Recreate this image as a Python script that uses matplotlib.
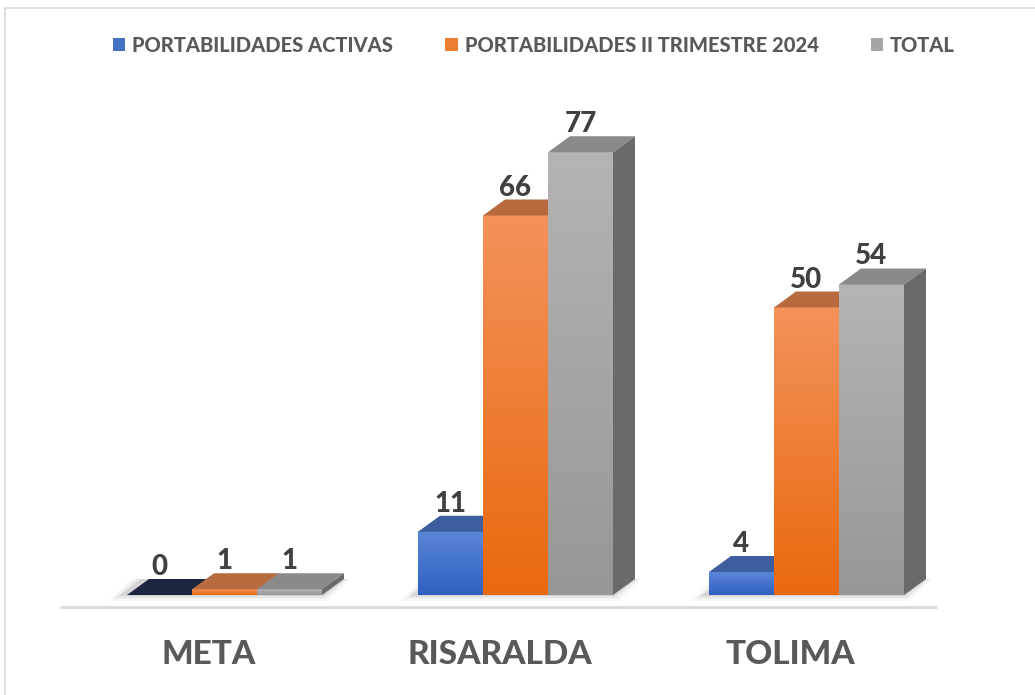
import matplotlib
matplotlib.use("Agg")
import matplotlib.pyplot as plt
import numpy as np
from matplotlib.patches import Polygon, Patch
from matplotlib.colors import LinearSegmentedColormap
from matplotlib.lines import Line2D

# ---------------- data ----------------
categories = ["META", "RISARALDA", "TOLIMA"]
series_names = ["PORTABILIDADES ACTIVAS", "PORTABILIDADES II TRIMESTRE 2024", "TOTAL"]
activas = [0, 11, 4]
trimestre = [1, 66, 50]
total = [1, 77, 54]
series_values = [activas, trimestre, total]

# ---------------- styles ----------------
plt.rcParams['font.family'] = ['Lato', 'DejaVu Sans']
front_top = ["#5b87d8", "#f4925a", "#b4b4b4"]
front_bot = ["#2f5fc0", "#e8690f", "#979797"]
top_col = ["#3e5d9e", "#b86a3f", "#8a8a8a"]
side_col = ["#2d4a85", "#a0522d", "#6a6a6a"]
zero_top = "#1c2640"
legend_col = ["#4472c4", "#ed7d31", "#a5a5a5"]

W, H = 1035, 695
PX_CAT = 291.0      # pixels per category
PX_UNIT = 5.75      # pixels per value unit
X0_PX = 224.5       # pixel of first category centre
Y0_PX = 595.0       # pixel (from top) of value zero
BAR_PX = 65.0
DX_PX, DY_PX = 22.0, 16.0

fig = plt.figure(figsize=(W / 100, H / 100), dpi=100)
ax = fig.add_axes([0, 0, 1, 1])
ax.axis('off')

bw = BAR_PX / PX_CAT
dx = DX_PX / PX_CAT
dy = DY_PX / PX_UNIT
px_x = 1.0 / PX_CAT
px_y = 1.0 / PX_UNIT

grad = np.linspace(1, 0, 128).reshape(-1, 1)
n = len(series_values)

for ci, cat in enumerate(categories):
    gx0 = ci - 1.5 * bw
    gx1 = ci + 1.5 * bw
    for k, a in [(12, 0.03), (8, 0.04), (5, 0.06), (2, 0.08)]:
        ex = k * px_x
        ey = k * 0.5 * px_y
        shadow = Polygon([(gx0 - ex - 6 * px_x, -ey), (gx1 + ex * 0.5, -ey),
                          (gx1 + dx + ex * 0.5, dy), (gx0 + dx - ex - 6 * px_x, dy)],
                         closed=True, facecolor="#303030", edgecolor='none',
                         alpha=a, zorder=1)
        ax.add_patch(shadow)
    for si in range(n):
        v = series_values[si][ci]
        x0 = ci + (si - 1.5) * bw
        x1 = x0 + bw
        z = 2 + si * 0.1
        cmap = LinearSegmentedColormap.from_list("g%d" % si, [front_bot[si], front_top[si]])
        if v > 0:
            ax.imshow(grad, extent=[x0, x1, 0, v], cmap=cmap, aspect='auto',
                      interpolation='bicubic', zorder=z, vmin=0, vmax=1)
        tc = top_col[si] if v > 0 else zero_top
        ax.add_patch(Polygon([(x0, v), (x1, v), (x1 + dx, v + dy), (x0 + dx, v + dy)],
                             closed=True, facecolor=tc, edgecolor='none', zorder=z + 0.01))
        ax.add_patch(Polygon([(x1, 0), (x1 + dx, dy), (x1 + dx, v + dy), (x1, v)],
                             closed=True, facecolor=side_col[si], edgecolor='none', zorder=z + 0.01))
        ax.text((x0 + x1) / 2, v + 20 * px_y, str(v), ha='center', va='baseline',
                fontsize=20, fontweight='black', color="#404040", zorder=10)
    ax.text(ci - 16 * px_x, (Y0_PX - 655) * px_y, cat, ha='center', va='center',
            fontsize=24, fontweight='black', color="#595959")

ax.plot([(60 - X0_PX) * px_x, (937 - X0_PX) * px_x],
        [(Y0_PX - 607) * px_y] * 2, color="#d9d9d9", lw=2, zorder=0.5,
        solid_capstyle='butt')

ax.set_xlim(-X0_PX / PX_CAT, (W - X0_PX) / PX_CAT)
ax.set_ylim(-(H - Y0_PX) / PX_UNIT, Y0_PX / PX_UNIT)

handles = [Patch(facecolor=c, edgecolor='none') for c in legend_col]
leg = ax.legend(handles, series_names, loc='center', bbox_to_anchor=(534 / W, 1 - 45 / H),
                ncol=3, frameon=False, handlelength=0.6, handleheight=0.6,
                handletextpad=0.35, columnspacing=2.6,
                prop={'size': 14.5, 'weight': 'black'})
for t in leg.get_texts():
    t.set_color("#595959")

fig.add_artist(Line2D([5 / W, 1], [1 - 8 / H, 1 - 8 / H], color="#d9d9d9", lw=1.2))
fig.add_artist(Line2D([5 / W, 5 / W], [0, 1 - 8 / H], color="#d9d9d9", lw=1.2))

fig.savefig("out.png", dpi=100)
